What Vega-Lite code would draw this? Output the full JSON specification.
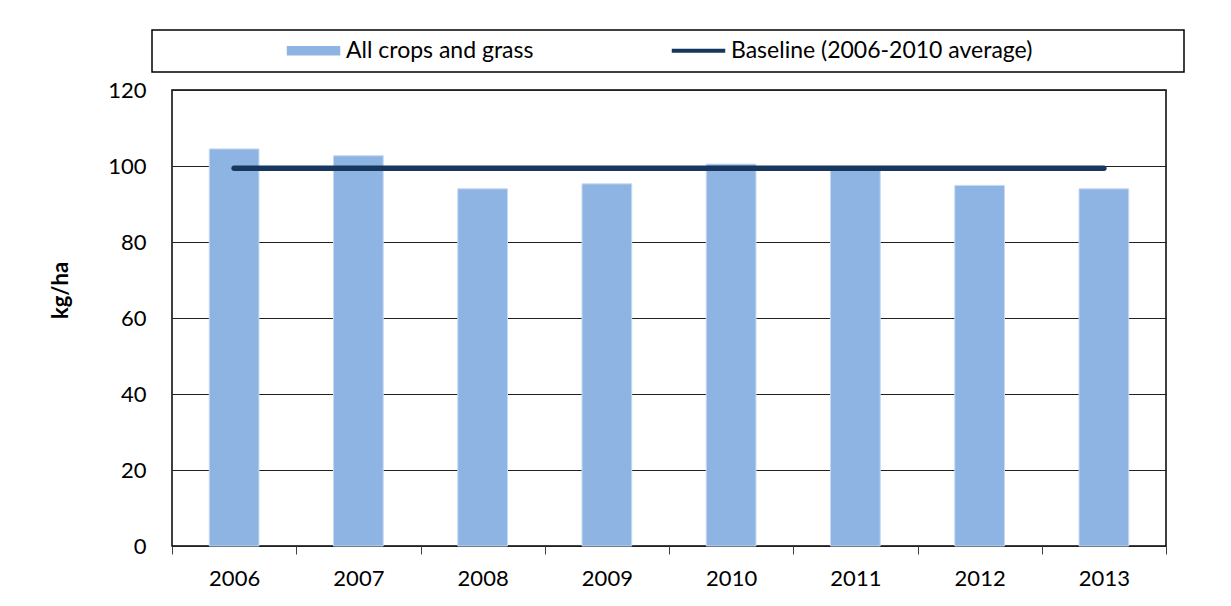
{
  "$schema": "https://vega.github.io/schema/vega-lite/v6.json",
  "autosize": {"type": "none"},
  "width": 994,
  "height": 456,
  "padding": {"left": 172, "top": 90, "right": 65, "bottom": 60},
  "background": "white",
  "config": {
    "font": "Lato",
    "view": {"stroke": "#000000", "strokeWidth": 1.5},
    "axis": {"labelFont": "Lato", "titleFont": "Lato", "labelColor": "#000000", "titleColor": "#000000"}
  },
  "data": {
    "values": [
      {"year": "2006", "series": "All crops and grass", "value": 104.5},
      {"year": "2007", "series": "All crops and grass", "value": 102.7},
      {"year": "2008", "series": "All crops and grass", "value": 94.0},
      {"year": "2009", "series": "All crops and grass", "value": 95.3},
      {"year": "2010", "series": "All crops and grass", "value": 100.5},
      {"year": "2011", "series": "All crops and grass", "value": 99.8},
      {"year": "2012", "series": "All crops and grass", "value": 94.9},
      {"year": "2013", "series": "All crops and grass", "value": 94.0},
      {"year": "2006", "series": "Baseline (2006-2010 average)", "value": 99.4},
      {"year": "2007", "series": "Baseline (2006-2010 average)", "value": 99.4},
      {"year": "2008", "series": "Baseline (2006-2010 average)", "value": 99.4},
      {"year": "2009", "series": "Baseline (2006-2010 average)", "value": 99.4},
      {"year": "2010", "series": "Baseline (2006-2010 average)", "value": 99.4},
      {"year": "2011", "series": "Baseline (2006-2010 average)", "value": 99.4},
      {"year": "2012", "series": "Baseline (2006-2010 average)", "value": 99.4},
      {"year": "2013", "series": "Baseline (2006-2010 average)", "value": 99.4}
    ]
  },
  "encoding": {
    "x": {
      "field": "year", "type": "nominal",
      "scale": {"paddingInner": 0, "paddingOuter": 0},
      "axis": {
        "title": null, "labelAngle": 0, "labelFontSize": 22, "labelPadding": 14,
        "tickBand": "extent", "ticks": true, "tickSize": 8, "tickColor": "#404040", "tickWidth": 1,
        "domain": false, "grid": false
      }
    },
    "y": {
      "field": "value", "type": "quantitative",
      "scale": {"domain": [0, 120], "nice": false, "zero": true},
      "axis": {
        "title": "kg/ha", "titleFontSize": 22, "titleFontWeight": "bold",
        "titleX": -112, "titleY": 200, "titleAngle": -90, "titleAlign": "center", "titleBaseline": "middle",
        "values": [0, 20, 40, 60, 80, 100, 120],
        "labelFontSize": 22, "labelPadding": 26, "ticks": false, "domain": false,
        "grid": true, "gridColor": "#202020", "gridWidth": 1
      }
    },
    "color": {
      "field": "series", "type": "nominal",
      "scale": {"domain": ["All crops and grass", "Baseline (2006-2010 average)"], "range": ["#8EB4E3", "#17375E"]},
      "legend": {
        "title": " ", "titleOrient": "right", "titlePadding": 143, "titleFontSize": 23,
        "orient": "none", "direction": "horizontal",
        "legendX": -20, "legendY": -60, "padding": 9,
        "strokeColor": "#000000", "fillColor": "#ffffff",
        "symbolOffset": 141, "columnPadding": 12, "labelOffset": 21,
        "labelFontSize": 23, "labelFont": "Lato", "labelColor": "#000000", "labelLimit": 600,
        "symbolSize": 256,
        "encode": {
          "legend": {"update": {"strokeWidth": {"value": 1.5}}},
          "symbols": {
            "update": {
              "shape": {"signal": "datum.value == 'All crops and grass' ? 'M-3.25,-0.5H3.25V0.5H-3.25Z' : 'M-3.25,-0.16H3.25V0.16H-3.25Z'"},
              "fill": {"signal": "datum.value == 'All crops and grass' ? '#8EB4E3' : '#17375E'"},
              "stroke": {"value": "transparent"},
              "opacity": {"value": 1},
              "fillOpacity": {"value": 1}
            }
          }
        }
      }
    }
  },
  "layer": [
    {
      "transform": [{"filter": "datum.series == 'All crops and grass'"}],
      "mark": {"type": "bar", "width": {"band": 0.4}, "stroke": "#C6D9F1", "strokeWidth": 1, "fillOpacity": 1}
    },
    {
      "transform": [{"filter": "datum.series == 'Baseline (2006-2010 average)'"}],
      "mark": {"type": "line", "strokeWidth": 5.5, "strokeCap": "round"}
    }
  ]
}
